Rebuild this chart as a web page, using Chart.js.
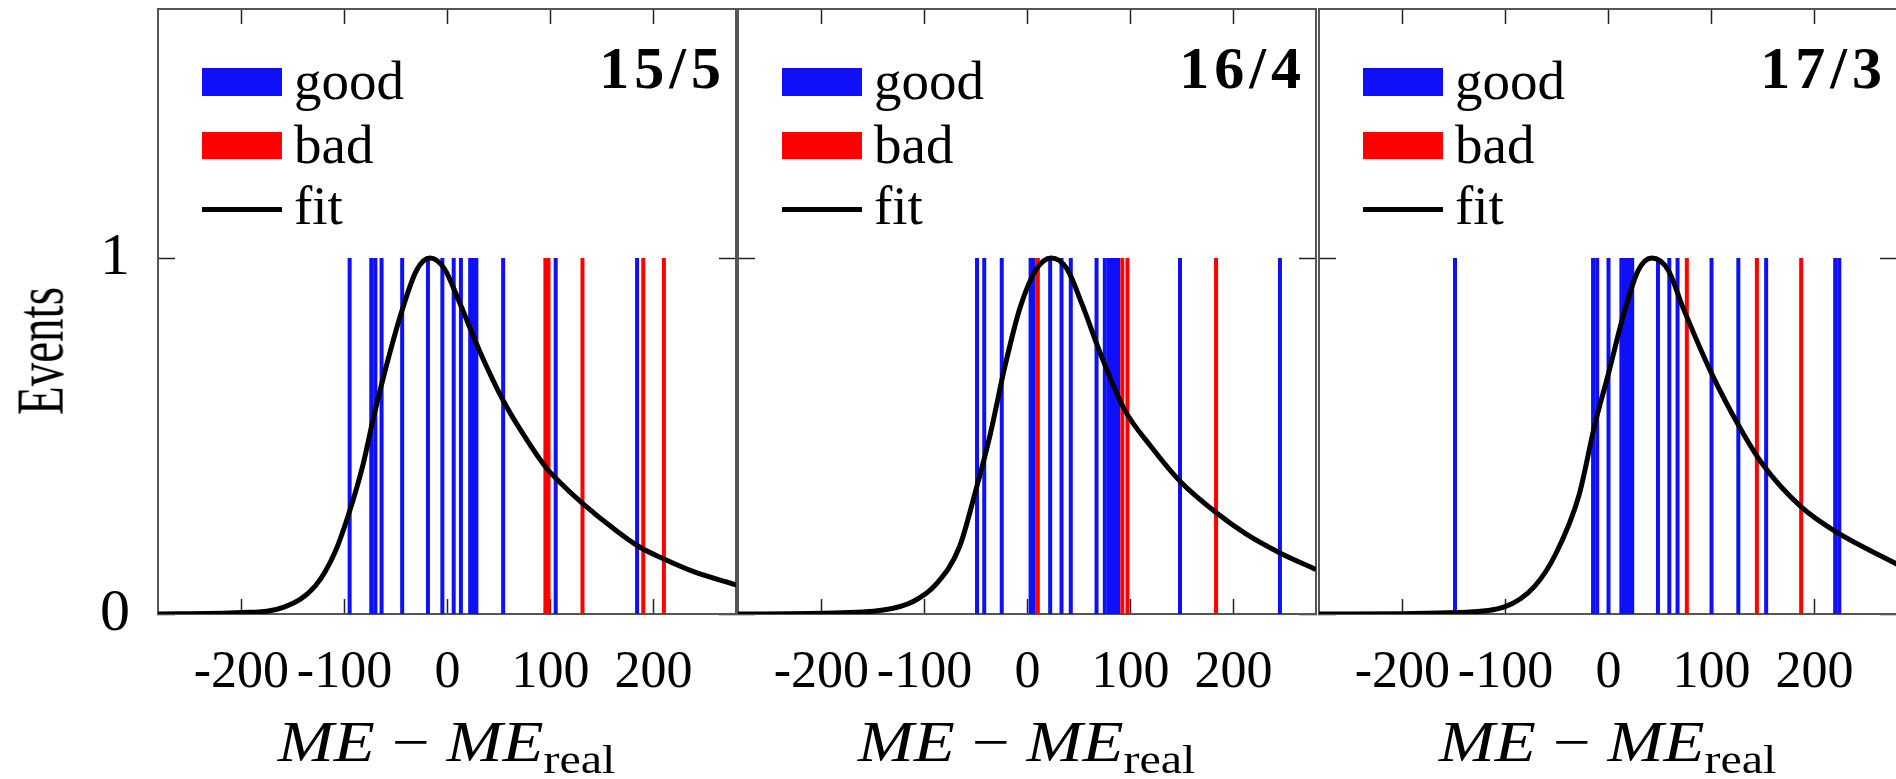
<!DOCTYPE html>
<html>
<head>
<meta charset="utf-8">
<script src="https://cdn.jsdelivr.net/npm/chart.js@4.4.0/dist/chart.umd.min.js"></script>
<style>
  html, body { margin: 0; padding: 0; background: #fff; }
  body { width: 1896px; height: 779px; position: relative; overflow: hidden; font-family: "Liberation Serif", serif; color: #000; }
  canvas { position: absolute; top: 0; }
  .t { position: absolute; white-space: nowrap; line-height: 1; }
  .sw { position: absolute; }
</style>
</head>
<body>
<canvas id="p1" width="740" height="779" style="left:0px"></canvas>
<canvas id="p2" width="582" height="779" style="left:736px"></canvas>
<canvas id="p3" width="583" height="779" style="left:1317px"></canvas>
<div id="overlay"></div>
<script>
// axis ranges and ticks
const xMin = -281, xMax = 280;
const yMin = 0, yMax = 1.7;
const xTicks = [-200, -100, 0, 100, 200];
const yTicks = [0, 1];
const panelLabels = ['15/5', '16/4', '17/3'];
const legendLabels = ['good', 'bad', 'fit'];

// event positions (ME - ME_real) per panel
const good1 = [-95, -74, -70, -64, -44, -19, -5, 6, 13, 22, 25, 28, 54, 105, 184];
const bad1 = [95, 98, 131, 190, 210];
const good2 = [-49, -42, -25, 3, 6, 22, 33, 42, 67, 75, 79, 82, 85, 88, 148, 245];
const bad2 = [10, 92, 97, 183];
const good3 = [-149, -15, -11, 0, 12.5, 15, 17.5, 20, 23, 48, 59, 67, 100, 126, 153, 220, 224];
const bad3 = [76, 144, 187];

// fit curves
const fit1X = [-282, -200, -158, -128, -109, -96, -82, -72, -60, -45, -30, -17, -3, 12, 31, 54, 69, 95, 107, 131, 163, 186, 209, 239, 281];
const fit1Y = [0, 0.004, 0.02, 0.08, 0.175, 0.28, 0.42, 0.55, 0.69, 0.845, 0.966, 1.0, 0.97, 0.873, 0.74, 0.60, 0.526, 0.414, 0.376, 0.311, 0.236, 0.189, 0.156, 0.119, 0.081];
const fit2X = [-281, -200, -140, -111, -88, -66, -51, -36, -22, -7, 8, 23, 38, 53, 71, 94, 120, 149, 183, 212, 246, 280];
const fit2Y = [0, 0.002, 0.011, 0.035, 0.086, 0.189, 0.339, 0.507, 0.695, 0.863, 0.966, 1.0, 0.971, 0.87, 0.73, 0.575, 0.47, 0.37, 0.285, 0.225, 0.17, 0.125];
const fit3X = [-281, -199, -148, -101, -72, -51, -29, -13, 0, 15, 29, 42, 58, 72, 100, 127, 149, 187, 223, 280];
const fit3Y = [0, 0.001, 0.004, 0.02, 0.077, 0.17, 0.33, 0.536, 0.676, 0.845, 0.966, 1.0, 0.966, 0.863, 0.676, 0.526, 0.423, 0.301, 0.227, 0.14];

const BLUE = 'rgb(15,15,250)';
const RED = 'rgb(255,0,0)';

function bars(xs) {
	const pts = [];
	xs.forEach((v) => {
		pts.push({ x: v, y: 0 }, { x: v, y: 1 }, { x: v, y: null });
	});
	return pts;
}

function curve(xs, ys) {
	return xs.map((v, i) => ({ x: v, y: ys[i] }));
}

const frame = { color: '#555', width: 2 };

function xScale(pos, show) {
	return {
		type: 'linear',
		position: pos,
		min: xMin,
		max: xMax,
		afterBuildTicks: (s) => { s.ticks = xTicks.map((v) => ({ value: v })); },
		afterFit: (s) => {
			s.height = pos === 'bottom' ? 165 : 9;
			s.paddingLeft = 0;
			s.paddingRight = 0;
		},
		grid: { drawOnChartArea: false, tickLength: -15, tickColor: '#222', tickWidth: 1.5 },
		border: frame,
		ticks: { display: show, padding: 43, color: '#000', font: { family: 'Liberation Serif', size: 52 }, maxRotation: 0, autoSkip: false },
	};
}

function yScale(pos, show, w) {
	return {
		type: 'linear',
		position: pos,
		min: yMin,
		max: yMax,
		afterBuildTicks: (s) => { s.ticks = yTicks.map((v) => ({ value: v })); },
		afterFit: (s) => {
			s.width = w;
			s.paddingTop = 0;
			s.paddingBottom = 0;
		},
		grid: { drawOnChartArea: false, tickLength: -17, tickColor: '#222', tickWidth: 1.5 },
		border: frame,
		ticks: { display: show, padding: 45, color: '#000', font: { family: 'Liberation Serif', size: 60 } },
	};
}

function makePanel(id, good, bad, fx, fy, leftW, rightW, showY) {
	return new Chart(document.getElementById(id), {
		type: 'line',
		data: {
			datasets: [
				{
					label: 'fit',
					data: curve(fx, fy),
					borderColor: '#000',
					borderWidth: 5,
					pointRadius: 0,
					cubicInterpolationMode: 'monotone',
					order: 0,
				},
				{
					label: 'bad',
					data: bars(bad),
					borderColor: RED,
					borderWidth: 4,
					pointRadius: 0,
					spanGaps: false,
					order: 1,
				},
				{
					label: 'good',
					data: bars(good),
					borderColor: BLUE,
					borderWidth: 4,
					pointRadius: 0,
					spanGaps: false,
					order: 2,
				},
			],
		},
		options: {
			responsive: false,
			animation: false,
			events: [],
			layout: { padding: 0 },
			plugins: { legend: { display: false }, tooltip: { enabled: false }, title: { display: false } },
			scales: {
				x: xScale('bottom', true),
				x2: xScale('top', false),
				y: yScale('left', showY, leftW),
				y2: yScale('right', false, rightW),
			},
		},
	});
}

const charts = [
	makePanel('p1', good1, bad1, fit1X, fit1Y, 158, 4, true),
	makePanel('p2', good2, bad2, fit2X, fit2Y, 2, 2, false),
	makePanel('p3', good3, bad3, fit3X, fit3Y, 2, 3, false),
];

// legend, panel tags and axis titles as html text
const overlay = document.getElementById('overlay');
function add(html) { overlay.insertAdjacentHTML('beforeend', html); }

charts.forEach((c, i) => {
	const left = parseFloat(c.canvas.style.left) + c.chartArea.left;
	const right = parseFloat(c.canvas.style.left) + c.chartArea.right;
	add(`<div class="sw" style="left:${left + 44}px;top:68px;width:80px;height:28px;background:${BLUE}"></div>`);
	add(`<div class="sw" style="left:${left + 44}px;top:132px;width:80px;height:27px;background:${RED}"></div>`);
	add(`<div class="sw" style="left:${left + 44}px;top:207px;width:80px;height:5px;background:#000"></div>`);
	add(`<div class="t" style="left:${left + 136}px;top:53px;font-size:55px">${legendLabels[0]}</div>`);
	add(`<div class="t" style="left:${left + 136}px;top:117px;font-size:55px">${legendLabels[1]}</div>`);
	add(`<div class="t" style="left:${left + 136}px;top:178px;font-size:55px">${legendLabels[2]}</div>`);
	add(`<div class="t" style="right:${1896 - right + 10}px;top:38px;font-size:60px;font-weight:bold;letter-spacing:5px">${panelLabels[i]}</div>`);
	add(`<div class="t" style="left:${left}px;width:${right - left}px;top:714px;text-align:center;font-size:56px">` +
		`<span style="display:inline-block;transform:scaleX(1.2)"><i>ME</i><span style="margin:0 14px">\u2212</span><i>ME</i>` +
		`<span style="font-size:40px;position:relative;top:12px">real</span></span></div>`);
});
add(`<div class="t" style="left:40px;top:351px;font-size:47px;transform:translate(-50%,-50%) rotate(-90deg) scale(1,1.45)">Events</div>`);
</script>
</body>
</html>
